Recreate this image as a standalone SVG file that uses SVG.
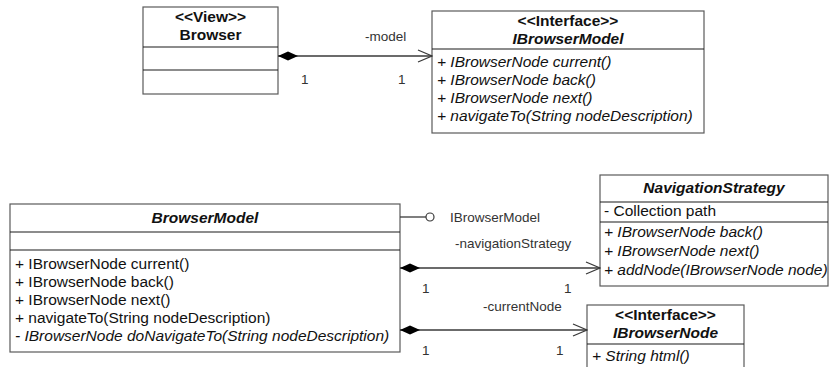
<svg xmlns="http://www.w3.org/2000/svg" width="832" height="367" viewBox="0 0 832 367">
  <style>
    .box { fill: #ffffff; stroke: #5a5a5a; stroke-width: 1.2; }
    .sep { stroke: #1a1a1a; stroke-width: 1.2; }
    .t { font-family: "Liberation Sans", Arial, sans-serif; font-size: 15.5px; fill: #111; }
    .b { font-weight: bold; }
    .i { font-style: italic; }
    .c { text-anchor: middle; }
    .lbl { font-family: "Liberation Sans", Arial, sans-serif; font-size: 13.5px; fill: #333; }
    .conn { stroke: #3a3a3a; stroke-width: 1.3; fill: none; }
  </style>
  <defs>
    <marker id="diamond" markerWidth="20" markerHeight="10" refX="0" refY="5" orient="auto" markerUnits="userSpaceOnUse">
      <path d="M0,5 L10,0.5 L20,5 L10,9.5 Z" fill="#000"/>
    </marker>
    <marker id="open" markerWidth="16" markerHeight="14" refX="15" refY="7" orient="auto" markerUnits="userSpaceOnUse">
      <path d="M1,1 L15,7 L1,13" fill="none" stroke="#3a3a3a" stroke-width="1.3"/>
    </marker>
  </defs>
  <rect width="832" height="367" fill="#ffffff"/>

  <!-- Browser view class -->
  <g id="browser">
    <rect class="box" x="143" y="7" width="135" height="87"/>
    <line class="sep" x1="143" y1="47" x2="278" y2="47"/>
    <line class="sep" x1="143" y1="70" x2="278" y2="70"/>
    <text class="t b c" x="210.5" y="22">&lt;&lt;View&gt;&gt;</text>
    <text class="t b c" x="210.5" y="40">Browser</text>
  </g>

  <!-- IBrowserModel interface -->
  <g id="ibrowsermodel">
    <rect class="box" x="432" y="11" width="272" height="122"/>
    <line class="sep" x1="432" y1="49" x2="704" y2="49"/>
    <text class="t b c" x="568" y="26">&lt;&lt;Interface&gt;&gt;</text>
    <text class="t b i c" x="568" y="44">IBrowserModel</text>
    <text class="t i" x="437" y="67">+ IBrowserNode current()</text>
    <text class="t i" x="437" y="85">+ IBrowserNode back()</text>
    <text class="t i" x="437" y="103">+ IBrowserNode next()</text>
    <text class="t i" x="437" y="121">+ navigateTo(String nodeDescription)</text>
  </g>

  <!-- BrowserModel class -->
  <g id="browsermodel">
    <rect class="box" x="10" y="204" width="390" height="148"/>
    <line class="sep" x1="10" y1="232" x2="400" y2="232"/>
    <line class="sep" x1="10" y1="250" x2="400" y2="250"/>
    <text class="t b i c" x="205" y="223">BrowserModel</text>
    <text class="t" x="15" y="269">+ IBrowserNode current()</text>
    <text class="t" x="15" y="287">+ IBrowserNode back()</text>
    <text class="t" x="15" y="305">+ IBrowserNode next()</text>
    <text class="t" x="15" y="323">+ navigateTo(String nodeDescription)</text>
    <text class="t i" x="15" y="341">- IBrowserNode doNavigateTo(String nodeDescription)</text>
  </g>

  <!-- NavigationStrategy class -->
  <g id="navigationstrategy">
    <rect class="box" x="600" y="175" width="228" height="111"/>
    <line class="sep" x1="600" y1="202" x2="828" y2="202"/>
    <line class="sep" x1="600" y1="222" x2="828" y2="222"/>
    <text class="t b i c" x="714" y="193">NavigationStrategy</text>
    <text class="t" x="604" y="216">- Collection path</text>
    <text class="t i" x="604" y="237">+ IBrowserNode back()</text>
    <text class="t i" x="604" y="256">+ IBrowserNode next()</text>
    <text class="t i" x="604" y="275">+ addNode(IBrowserNode node)</text>
  </g>

  <!-- IBrowserNode interface -->
  <g id="ibrowsernode">
    <rect class="box" x="587" y="305" width="157" height="80"/>
    <line class="sep" x1="587" y1="344" x2="744" y2="344"/>
    <text class="t b c" x="665.5" y="320">&lt;&lt;Interface&gt;&gt;</text>
    <text class="t b i c" x="665.5" y="338">IBrowserNode</text>
    <text class="t i" x="592" y="361">+ String html()</text>
  </g>

  <!-- Connectors -->
  <g id="connectors">
    <line class="conn" x1="278" y1="56" x2="432" y2="56" marker-start="url(#diamond)" marker-end="url(#open)"/>
    <text class="lbl" x="365" y="41">-model</text>
    <text class="lbl" x="301" y="84">1</text>
    <text class="lbl" x="398" y="84">1</text>

    <line class="conn" x1="400" y1="217" x2="426" y2="217"/>
    <circle cx="430" cy="217" r="4" fill="#fff" stroke="#3a3a3a" stroke-width="1.2"/>
    <text class="lbl" x="450" y="222">IBrowserModel</text>

    <line class="conn" x1="400" y1="268" x2="600" y2="268" marker-start="url(#diamond)" marker-end="url(#open)"/>
    <text class="lbl" x="455" y="248">-navigationStrategy</text>
    <text class="lbl" x="422" y="293">1</text>
    <text class="lbl" x="564" y="293">1</text>

    <line class="conn" x1="400" y1="330" x2="587" y2="330" marker-start="url(#diamond)" marker-end="url(#open)"/>
    <text class="lbl" x="483" y="311">-currentNode</text>
    <text class="lbl" x="422" y="355">1</text>
    <text class="lbl" x="556" y="355">1</text>
  </g>
</svg>
